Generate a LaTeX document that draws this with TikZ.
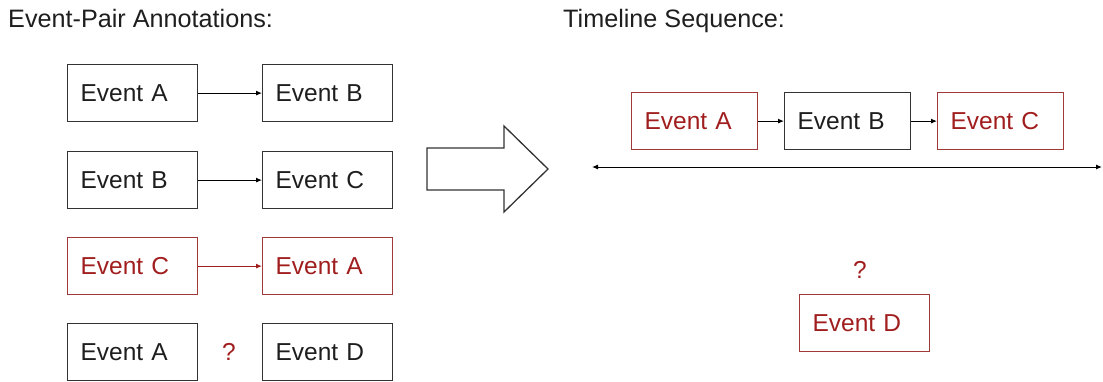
\documentclass[tikz,border=0pt]{standalone}
\usepackage{fontspec}
\setmainfont{Liberation Sans}
\usetikzlibrary{arrows.meta}
\definecolor{evred}{HTML}{A11E1E}
\definecolor{evredline}{HTML}{A03A3A}
\definecolor{evink}{HTML}{1E1E1E}
\definecolor{evline}{HTML}{333333}
\tikzset{
  evbox/.style={draw=evline, line width=1.2pt, rectangle, anchor=north west,
    minimum height=57pt, inner xsep=13pt, inner ysep=0pt, text width=#1,
    align=left, text=evink, font=\fontsize{24.5}{29}\selectfont},
  evbox/.default=104pt,
  hot/.style={draw=evredline, text=evred},
  link/.style={draw=black, line width=1pt, -{Latex[length=6pt,width=5pt]}},
  title/.style={anchor=base west, inner sep=0pt, text=evink, font=\fontsize{25.2}{29}\selectfont},
  qmark/.style={text=evred, inner sep=0pt, font=\fontsize{24.5}{29}\selectfont},
}
\begin{document}
\begin{tikzpicture}[x=1pt,y=-1pt]
\useasboundingbox (0,0) rectangle (1103,381);

% headings
\node[title] (t1) at (8,27) {Event-Pair Annotations:};
\node[title] (t2) at (563,27) {Timeline Sequence:};

% event pairs
\node[evbox] (p1a) at (67,64)  {Event A};
\node[evbox] (p1b) at (262,64) {Event B};
\node[evbox] (p2a) at (67,151)  {Event B};
\node[evbox] (p2b) at (262,151) {Event C};
\node[evbox,hot] (p3a) at (67,237)  {Event C};
\node[evbox,hot] (p3b) at (262,237) {Event A};
\node[evbox] (p4a) at (67,323)  {Event A};
\node[evbox] (p4b) at (262,323) {Event D};
\node[qmark] (q1) at (229,352) {?};

\draw[link] (p1a) -- (p1b);
\draw[link] (p2a) -- (p2b);
\draw[link, draw=evred, -{Latex[length=6pt,width=5pt]}] (p3a) -- (p3b);

% block arrow
\draw[draw=evline, line width=1.3pt, line join=miter]
  (427,148) -- (504,148) -- (504,126) -- (548,169) -- (504,212)
  -- (504,190) -- (427,190) -- cycle;

% timeline
\node[evbox=100pt,hot] (ta) at (631,92) {Event A};
\node[evbox=100pt] (tb) at (784,92) {Event B};
\node[evbox=100pt,hot] (tc) at (937,92) {Event C};
\draw[link] (ta) -- (tb);
\draw[link] (tb) -- (tc);

\coordinate (tl) at (592,167);
\coordinate (tr) at (1102,167);
\draw[line width=1pt, {Latex[length=6pt,width=5pt]}-{Latex[length=6pt,width=5pt]}] (tl) -- (tr);

\node[qmark] (q2) at (860,270) {?};
\node[evbox,hot] (td) at (799,294) {Event D};
\end{tikzpicture}
\end{document}
